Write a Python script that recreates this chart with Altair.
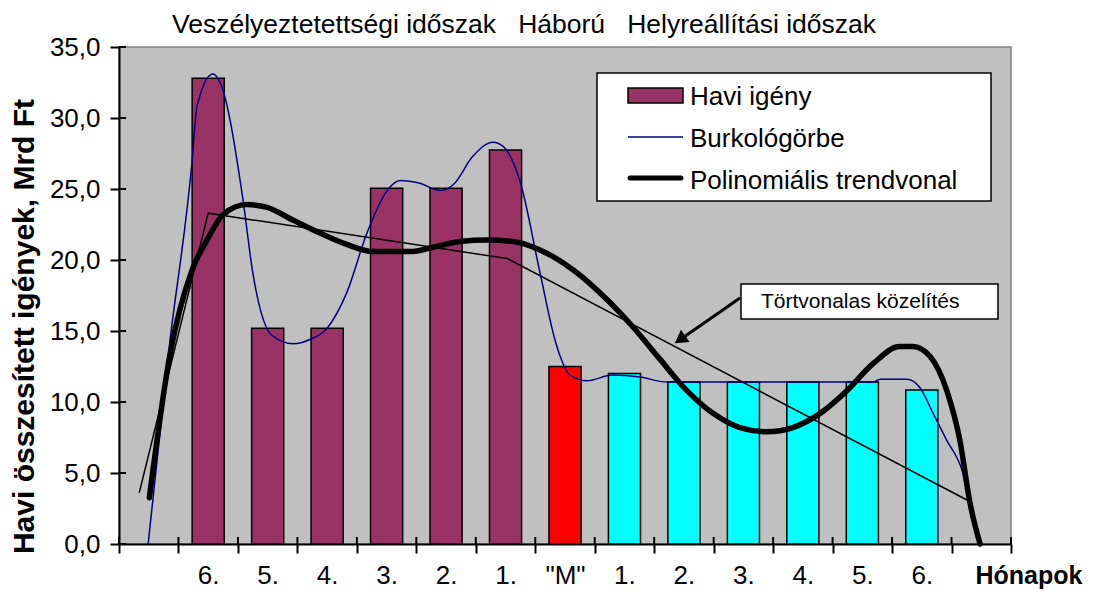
import altair as alt
import pandas as pd

# ---------------- data ----------------
categories = ["", "6.", "5.", "4.", "3.", "2.", "1.", '"M"', "1.", "2.", "3.", "4.", "5.", "6.", ""]
bar_values = [32.8, 15.2, 15.2, 25.05, 25.05, 27.75, 12.5, 12.0, 11.4, 11.4, 11.4, 11.4, 10.85]
bar_periods = ["Veszélyeztetettségi"] * 6 + ["Háború"] + ["Helyreállítási"] * 6
period_domain = ["Veszélyeztetettségi", "Háború", "Helyreállítási"]
period_colors = ["#993366", "#FF0000", "#00FFFF"]

# envelope curve (Burkológörbe), x in category units (0..15)
env_x = [0.49, 0.84, 1.23, 1.31, 1.58, 1.70, 2.08, 2.25, 2.57, 2.93, 3.21, 3.50, 3.83, 4.17,
         4.51, 4.73, 5.06, 5.40, 5.62, 5.95, 6.29, 6.46, 6.74, 7.08, 7.33, 7.42, 7.58, 7.87,
         8.30, 8.76, 9.21, 12.68, 12.80, 13.25, 13.47, 13.69, 13.92, 14.19, 14.36, 14.47]
env_y = [0.0, 13.7, 27.0, 30.8, 33.1, 32.5, 24.4, 19.1, 14.7, 14.1, 14.4, 15.2, 17.7, 21.9,
         24.9, 25.6, 25.4, 24.9, 25.3, 27.3, 28.3, 28.0, 25.6, 19.1, 14.4, 13.2, 11.9, 11.5,
         11.9, 11.76, 11.4, 11.4, 11.6, 11.6, 11.0, 9.2, 7.3, 5.0, 1.7, 0.0]

# polynomial trend line
trend_x = [0.51, 0.86, 1.23, 1.48, 1.75, 2.15, 2.49, 2.93, 3.38, 3.83, 4.27, 4.94, 5.28, 5.73,
           6.19, 6.63, 7.08, 7.64, 8.21, 8.64, 9.10, 9.55, 9.99, 10.44, 10.90, 11.33, 11.79,
           12.24, 12.68, 13.13, 13.35, 13.64, 13.92, 14.14, 14.31, 14.48]
trend_y = [3.25, 13.4, 19.3, 21.4, 23.2, 23.9, 23.7, 22.8, 21.9, 21.1, 20.6, 20.6, 20.9, 21.3,
           21.4, 21.3, 20.7, 19.3, 17.2, 15.3, 13.0, 10.8, 9.2, 8.2, 7.9, 8.2, 9.2,
           10.8, 12.7, 13.9, 13.9, 13.2, 10.8, 7.3, 2.9, 0.0]

# broken-line approximation (Törtvonalas közelítés)
broken_x = [0.34, 1.50, 6.53, 14.26]
broken_y = [3.6, 23.3, 20.1, 3.1]

x_ticks = list(range(16))
y_ticks = [0, 5, 10, 15, 20, 25, 30, 35]

period_title = "Veszélyeztetettségi időszak\u00a0\u00a0\u00a0Háború\u00a0\u00a0\u00a0Helyreállítási időszak"
legend_labels = ["Havi igény", "Burkológörbe", "Polinomiális trendvonal"]
annotation_text = "Törtvonalas közelítés"
y_title = "Havi összesített igények, Mrd Ft"
x_title = "Hónapok"

# ---------------- tables ----------------
bars = pd.DataFrame({
    "cat": categories[1:14],
    "value": bar_values,
    "period": bar_periods,
})
bars["x0"] = [i + 1 + 0.5 - 0.27 for i in range(len(bar_values))]
bars["x1"] = [i + 1 + 0.5 + 0.27 for i in range(len(bar_values))]

env = pd.DataFrame({"x": env_x, "y": env_y})
trend = pd.DataFrame({"x": trend_x, "y": trend_y})
broken = pd.DataFrame({"x": broken_x, "y": broken_y})
xt = pd.DataFrame({"x": x_ticks})
yt = pd.DataFrame({"y": y_ticks})

FONT = "Liberation Sans"
W, H = 892, 497
band = W / 15.0

xscale = alt.Scale(domain=[0, 15], nice=False, zero=False)
yscale = alt.Scale(domain=[0, 35], nice=False)

# label expression built from the category list (chained conditions)
label_expr = "''"
for i in reversed(range(len(categories))):
    lab = categories[i].replace("'", "\\'")
    label_expr = f"datum.value == {i} ? '{lab}' : ({label_expr})"

x_axis = alt.Axis(
    values=x_ticks, labelExpr=label_expr, labelOffset=band / 2, labelFlush=False,
    labelOverlap=False, labelBound=False, labelBaseline="alphabetic", labelPadding=30,
    labelFontSize=26, tickSize=9,
    title=x_title, titleX=856, titleY=39, titleAlign="left", titleBaseline="alphabetic",
    titleFontWeight="bold", titleFontSize=25,
)
y_axis = alt.Axis(
    values=y_ticks, format=".1f",
    labelPadding=10, labelFontSize=26, tickSize=9,
    title=y_title, titleX=-95, titleY=279, titleAngle=270, titleAlign="center",
    titleBaseline="middle", titleFontSize=30, titleFontWeight="bold",
)

bar_layer = alt.Chart(bars).mark_rect(stroke="black", strokeWidth=1.5).encode(
    x=alt.X("x0:Q", scale=xscale, axis=x_axis),
    x2="x1:Q",
    y=alt.Y("value:Q", scale=yscale, axis=y_axis),
    y2=alt.datum(0),
    color=alt.Color("period:N", scale=alt.Scale(domain=period_domain, range=period_colors), legend=None),
)

broken_layer = alt.Chart(broken).mark_line(color="black", strokeWidth=1.5).encode(
    x=alt.X("x:Q", scale=xscale, axis=x_axis), y=alt.Y("y:Q", scale=yscale, axis=y_axis))
env_layer = alt.Chart(env).mark_line(color="#000080", strokeWidth=1.5, interpolate="monotone").encode(
    x=alt.X("x:Q", scale=xscale, axis=x_axis), y=alt.Y("y:Q", scale=yscale, axis=y_axis))
trend_layer = alt.Chart(trend).mark_line(color="black", strokeWidth=5.5, strokeCap="round",
                                         interpolate="monotone").encode(
    x=alt.X("x:Q", scale=xscale, axis=x_axis), y=alt.Y("y:Q", scale=yscale, axis=y_axis))

# inner halves of the crossing ticks
xtick_in = alt.Chart(xt).mark_rule(color="black", strokeWidth=2).encode(
    x=alt.X("x:Q", scale=xscale, axis=x_axis), y=alt.value(H - 7), y2=alt.value(H))
ytick_in = alt.Chart(yt).mark_rule(color="black", strokeWidth=2).encode(
    y=alt.Y("y:Q", scale=yscale, axis=y_axis), x=alt.value(0), x2=alt.value(7))


def txt(s):
    return pd.DataFrame({"t": [s]})


one = txt("")

title_layer = alt.Chart(txt(period_title)).mark_text(
    align="left", baseline="alphabetic", fontSize=26.5, font=FONT, color="black").encode(
    x=alt.value(53), y=alt.value(-14), text="t:N")

# legend
leg_box = alt.Chart(one).mark_rect(fill="white", stroke="black", strokeWidth=1.5).encode(
    x=alt.value(478), x2=alt.value(872), y=alt.value(26), y2=alt.value(154))
leg_sym1 = alt.Chart(one).mark_rect(fill=period_colors[0], stroke="black", strokeWidth=1.5).encode(
    x=alt.value(509), x2=alt.value(564), y=alt.value(41), y2=alt.value(56))
leg_sym2 = alt.Chart(one).mark_rule(color="#000080", strokeWidth=1.5).encode(
    x=alt.value(509), x2=alt.value(564), y=alt.value(90))
leg_sym3 = alt.Chart(one).mark_rule(color="black", strokeWidth=5, strokeCap="round").encode(
    x=alt.value(511), x2=alt.value(562), y=alt.value(131))
leg_texts = [
    alt.Chart(txt(lbl)).mark_text(align="left", baseline="alphabetic", fontSize=26, font=FONT,
                                  color="black").encode(x=alt.value(571), y=alt.value(yy), text="t:N")
    for lbl, yy in zip(legend_labels, [58, 100, 142])
]

# annotation
ann_box = alt.Chart(one).mark_rect(fill="white", stroke="black", strokeWidth=1.5).encode(
    x=alt.value(622), x2=alt.value(879), y=alt.value(237), y2=alt.value(272))
ann_text = alt.Chart(txt(annotation_text)).mark_text(
    align="left", baseline="alphabetic", fontSize=21, font=FONT, color="black").encode(
    x=alt.value(642), y=alt.value(261), text="t:N")
ann_line = alt.Chart(one).mark_rule(color="black", strokeWidth=3).encode(
    x=alt.value(621), y=alt.value(251), x2=alt.value(562), y2=alt.value(292))
ann_head = alt.Chart(one).mark_point(shape="triangle-up", filled=True, fill="black", size=220,
                                     angle=235, opacity=1, strokeWidth=0).encode(
    x=alt.value(561), y=alt.value(292.5))

chart = alt.layer(
    bar_layer, broken_layer, env_layer, trend_layer, xtick_in, ytick_in,
    title_layer, leg_box, leg_sym1, leg_sym2, leg_sym3, *leg_texts,
    ann_box, ann_text, ann_line, ann_head,
).properties(
    width=W, height=H,
    padding={"left": 111, "top": 39, "right": 74, "bottom": 45},
    autosize=alt.AutoSizeParams(type="none"),
    background="white",
).configure(
    locale={"number": {"decimal": ",", "thousands": "\u00a0", "grouping": [3], "currency": ["", ""]}},
).configure_view(
    fill="#C0C0C0", stroke="#808080", strokeWidth=1.5,
).configure_axis(
    domainColor="black", domainWidth=2, tickColor="black", tickWidth=2, grid=False,
    labelFont=FONT, titleFont=FONT, labelColor="black", titleColor="black",
)

chart.save("out.html", embed_options={"renderer": "svg", "actions": False})
